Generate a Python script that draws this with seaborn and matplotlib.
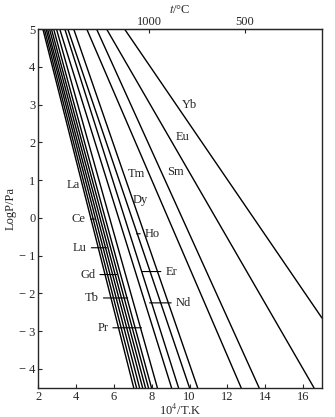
import pandas as pd
import matplotlib
matplotlib.use("Agg")
import matplotlib.pyplot as plt
import seaborn as sns

# Vapour pressure lines: x (10^4/T) where each line leaves the top (LogP = 5)
# and where it ends (bottom at LogP = -4.5, or the right edge for Yb)
elements = ['La', 'Ce', 'Lu', 'Gd', 'Tb', 'Y', 'Pr', 'Sc',
            'Nd', 'Er', 'Ho', 'Dy',
            'Tm', 'Sm', 'Eu', 'Yb']
x_top = [2.25, 2.33, 2.42, 2.50, 2.60, 2.70, 2.82, 2.97,
         3.14, 3.41, 3.57, 3.88,
         4.57, 5.09, 5.62, 6.57]
x_end = [7.05, 7.20, 7.36, 7.52, 7.67, 7.83, 7.99, 8.30,
         9.05, 9.42, 10.00, 10.43,
         12.73, 13.68, 16.58, 17.00]
logp_end = [-4.5] * 15 + [-2.65]

# Labels: text position and where the leader line ends (None = no leader)
label_names = ['Yb', 'Eu', 'Sm', 'Tm', 'Dy', 'Ho', 'Er', 'Nd',
               'La', 'Ce', 'Lu', 'Gd', 'Tb', 'Pr']
label_x = [9.99, 9.63, 9.25, 7.20, 7.41, 8.04, 9.04, 9.68,
           3.83, 4.15, 4.20, 4.62, 4.83, 5.41]
label_y = [2.99, 2.14, 1.22, 1.16, 0.48, -0.42, -1.42, -2.25,
           0.86, -0.03, -0.79, -1.50, -2.12, -2.91]
leader_x = [None, None, None, None, None, 7.20, 7.51, 7.89,
            None, 4.99, 5.62, 6.15, 6.73, 7.46]

y_ticks = [-4, -3, -2, -1, 0, 1, 2, 3, 4, 5]
y_ticklabels = ['− 4', '− 3', '− 2', '− 1', '0', '1', '2', '3', '4', '5']
x_ticks = [2, 4, 6, 8, 10, 12, 14, 16]
t_ticks = [1000, 500]

rows = []
for name, xt, xe, ye in zip(elements, x_top, x_end, logp_end):
    rows.append({'element': name, 'x': xt, 'logp': 5.0})
    rows.append({'element': name, 'x': xe, 'logp': ye})
df = pd.DataFrame(rows)

sns.set_style('ticks')
plt.rcParams['font.family'] = ['Liberation Serif', 'DejaVu Serif']
plt.rcParams['mathtext.fontset'] = 'stix'
plt.rcParams['xtick.direction'] = 'in'
plt.rcParams['ytick.direction'] = 'in'

fig = plt.figure(figsize=(3.35, 4.17), dpi=100)
ax = fig.add_axes([0.114, 0.07, 0.847, 0.86])

sns.lineplot(data=df, x='x', y='logp', hue='element', units='element',
             estimator=None, sort=False, palette={e: 'black' for e in elements},
             linewidth=1.0, legend=False, ax=ax)

ax.set_xlim(2, 17)
ax.set_ylim(-4.5, 5)
ax.set_xticks(x_ticks)
ax.set_yticks(y_ticks)
ax.set_yticklabels(y_ticklabels)
ax.tick_params(labelsize=9, length=3, width=0.8, pad=2)
for s in ax.spines.values():
    s.set_visible(True)
    s.set_linewidth(1.0)
ax.set_xlabel('10$^4$/T.K', fontsize=9, labelpad=0)
ax.set_ylabel('LogP/Pa', fontsize=9, labelpad=2)

top = ax.secondary_xaxis('top', functions=(lambda x: 1e4 / x - 273.15,
                                           lambda t: 1e4 / (t + 273.15)))
top.set_xticks(t_ticks)
top.tick_params(labelsize=9, length=3, width=0.8, pad=1, direction='in')
top.set_xlabel('$t$/°C', fontsize=9, labelpad=2)

for name, tx, ty, lx in zip(label_names, label_x, label_y, leader_x):
    if lx is None:
        ax.text(tx, ty, name, fontsize=9, ha='center', va='center')
    else:
        ax.annotate(name, xy=(lx, ty), xytext=(tx, ty), fontsize=9,
                    ha='center', va='center',
                    arrowprops=dict(arrowstyle='-', lw=0.8, color='black',
                                    shrinkA=1, shrinkB=0))

fig.savefig('out.png', dpi=100)
